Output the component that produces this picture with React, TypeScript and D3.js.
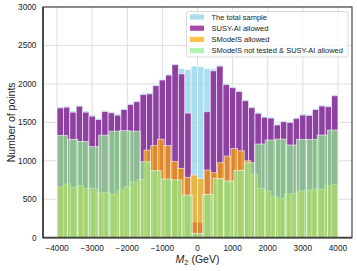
import React from 'react';
import * as d3 from 'd3';

// histogram range of M2 (GeV), every series binned over it
const M2_LO = -4000;
const M2_HI = 4000;

const xTicks = [-4000, -3000, -2000, -1000, 0, 1000, 2000, 3000, 4000];
const yTicks = [0, 500, 1000, 1500, 2000, 2500, 3000];

// 44 bins
const totalSample = [
  1705, 1712, 1650, 1722, 1648, 1598, 1552, 1655, 1640, 1610, 1682,
  1745, 1782, 1878, 1885, 1990, 2062, 2128, 2262, 2200, 2185, 2230,
  2225, 2200, 2195, 2245, 2005, 1965, 1915, 1795, 1705, 1632, 1580,
  1570, 1480, 1522, 1512, 1566, 1610, 1605, 1680, 1726, 1716, 1858,
];

// 44 bins
const susyAiAllowed = [
  1688, 1697, 1632, 1710, 1632, 1580, 1537, 1641, 1623, 1593, 1667,
  1732, 1768, 1862, 1870, 1976, 2050, 2114, 2250, 2130, 1620, 205,
  200, 1638, 2170, 2230, 1990, 1950, 1900, 1780, 1690, 1618, 1566,
  1555, 1465, 1508, 1498, 1552, 1595, 1590, 1667, 1712, 1703, 1845,
];

// 42 bins
const smodelsAllowed = [
  663, 698, 655, 681, 642, 642, 585, 585, 564, 620, 663,
  724, 760, 1140, 1198, 1280, 1198, 993, 902, 785, 815,
  772, 880, 845, 975, 1062, 1160, 1130, 1000, 828, 642,
  607, 533, 512, 568, 577, 607, 620, 633, 633, 676, 694,
];

// 27 bins
const notTestedSusyAllowed = [
  1331, 1279, 1252, 1184, 1333, 1385, 1392, 1385, 988, 871, 763, 752, 553, 57,
  564, 772, 737, 875, 975, 1218, 1270, 1283, 1205, 1279, 1279, 1335, 1400,
];

const series = [
  { label: 'The total sample', values: totalSample, color: '#87ceeb' },
  { label: 'SUSY-AI allowed', values: susyAiAllowed, color: '#800080' },
  { label: 'SModelS allowed', values: smodelsAllowed, color: '#ffa500' },
  { label: 'SModelS not tested & SUSY-AI allowed', values: notTestedSusyAllowed, color: '#90ee90' },
];

const W = 357;
const H = 271;
const left = 43, right = 352, top = 7, bottom = 237.7;
const font = '"Liberation Sans", Arial, sans-serif';

export default function App() {
  const x = d3.scaleLinear().domain([-4400, 4400]).range([left, right]);
  const y = d3.scaleLinear().domain([0, 3000]).range([bottom, top]);
  const fmt = d3.format('d');

  const bars = series.map((s) => {
    const n = s.values.length;
    const edges = d3.range(n + 1).map((i) => M2_LO + ((M2_HI - M2_LO) * i) / n);
    return s.values.map((v, i) => (
      <rect
        key={s.label + i}
        x={x(edges[i])}
        y={y(v)}
        width={x(edges[i + 1]) - x(edges[i])}
        height={y(0) - y(v)}
        fill={s.color}
        fillOpacity={0.7}
        stroke="#fff"
        strokeOpacity={0.7}
        strokeWidth={0.8}
      />
    ));
  });

  const lgX = 186.5, lgY = 11.5, lgW = 161.5, lgH = 45.5;

  return (
    <svg width={W} height={H} style={{ position: 'absolute', left: 0, top: 0, background: '#fff' }}>
      {/* grid */}
      {xTicks.map((t) => (
        <line key={'gx' + t} x1={x(t)} x2={x(t)} y1={top} y2={bottom} stroke="#dcdcdc" strokeWidth={1} />
      ))}
      {yTicks.map((t) => (
        <line key={'gy' + t} x1={left} x2={right} y1={y(t)} y2={y(t)} stroke="#dcdcdc" strokeWidth={1} />
      ))}

      {bars}

      {/* spines */}
      <rect x={left} y={top} width={right - left} height={bottom - top} fill="none" stroke="#555" strokeWidth={1.3} />
      <line x1={left} x2={left} y1={top} y2={bottom} stroke="#444" strokeWidth={1.8} />
      <line x1={left} x2={right} y1={bottom} y2={bottom} stroke="#444" strokeWidth={1.8} />

      {/* tick labels */}
      {xTicks.map((t) => (
        <text key={'tx' + t} x={x(t)} y={250.5} fontSize={8.3} fontFamily={font} fill="#222" textAnchor="middle">
          {fmt(t)}
        </text>
      ))}
      {yTicks.map((t) => (
        <text key={'ty' + t} x={36.5} y={y(t) + 3} fontSize={8.3} fontFamily={font} fill="#222" textAnchor="end">
          {fmt(t)}
        </text>
      ))}

      {/* axis labels */}
      <text x={(left + right) / 2} y={262.5} fontSize={10.5} fontFamily={font} fill="#222" textAnchor="middle">
        <tspan fontStyle="italic">M</tspan>
        <tspan fontSize={7.4} dy={2.2}>2</tspan>
        <tspan dy={-2.2}> (GeV)</tspan>
      </text>
      <text
        transform={`translate(15,${(top + bottom) / 2}) rotate(-90)`}
        fontSize={10.5}
        fontFamily={font}
        fill="#222"
        textAnchor="middle"
      >
        Number of points
      </text>

      {/* legend */}
      <rect x={lgX} y={lgY} width={lgW} height={lgH} rx={2} fill="#fff" fillOpacity={0.8} stroke="#d0d0d0" strokeWidth={0.8} />
      {series.map((s, i) => {
        const cy = 17 + i * 11.2;
        return (
          <g key={'lg' + i}>
            <rect x={190} y={cy - 2.6} width={14} height={5.2} fill={s.color} fillOpacity={0.7} />
            <text x={211.5} y={cy + 2.6} fontSize={7.5} fontFamily={font} fill="#222">
              {s.label}
            </text>
          </g>
        );
      })}
    </svg>
  );
}
